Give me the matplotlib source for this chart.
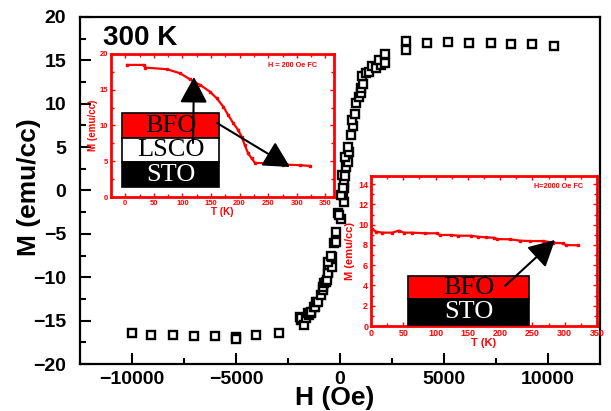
import matplotlib
matplotlib.use("Agg")
import matplotlib.pyplot as plt
from matplotlib.patches import Rectangle
from matplotlib.text import Annotation
from matplotlib.ticker import MultipleLocator

plt.rcParams['font.family'] = ['Liberation Sans', 'DejaVu Sans']
plt.rcParams['font.weight'] = 'bold'

# main hysteresis loop at 300 K
H_main = [-10000, -9076, -8038, -7005, -6014, -4976, -4976, -4019, -2952,
          -1947, -1866, -1866, -1708, -1627, -1550, -1502, -1388, -1388, -1230,
          -1196, -1148, -1072, -909, -833, -833, -751, -670, -622, -593, -593,
          -512, -402, -593, -402, -431, -306, -191, -191, 48, -81, -33, 172,
          124, 48, 172, 206, 124, 96, 254, 287, 364, 254, 445, 364, 526, 636,
          574, 732, 766, 890, 1005, 1005, 1115, 1081, 1244, 1402, 1545, 1722,
          1962, 1880, 2167, 2167, 3158, 3158, 4163, 5196, 6187, 7240, 8244,
          9249, 10301]
M_main = [-16.46, -16.66, -16.7, -16.77, -16.77, -16.85, -17.1, -16.66, -16.46,
          -14.55, -14.93, -14.73, -15.5, -14.73, -14.16, -14.35, -14.09, -13.97, -13.39,
          -13.39, -12.82, -12.82, -12.05, -11.47, -11.16, -10.7, -10.51, -10.32, -9.36, -9.54,
          -8.59, -8.85, -8.2, -7.63, -7.55, -6.09, -5.9, -4.75, -3.32, -2.63, -2.82, -1.29,
          -0.52, -0.52, 0.25, 0.9, 0.25, 1.79, 1.67, 2.74, 3.32, 3.83, 4.47, 5.05, 6.4, 7.44,
          8.13, 8.82, 10.05, 10.74, 11.2, 11.78, 12.28, 13.2, 13.51, 13.69, 14.35, 14.09,
          14.47, 15.04, 14.66, 15.73, 16.2, 17.27, 17.0, 17.1, 17.0, 17.0, 16.9,
          16.9, 16.7]

# inset 1: BFO/LSCO/STO, H = 200 Oe FC
T1 = [3, 32, 35, 73, 96, 113, 131, 148, 160, 171.5, 180, 189, 197.6, 203.5,
      209, 215, 221, 226.7, 247, 276, 305, 322.6]
M1 = [18.47, 18.47, 18.1, 17.87, 17.3, 16.46, 15.67, 14.73, 13.8, 12.62, 11.46,
      10.3, 9.35, 8.42, 7.25, 6.09, 5.39, 4.77, 4.72, 4.54, 4.45, 4.35]

# inset 2: BFO/STO, H = 2000 Oe FC
T2 = [1.5, 7.6, 17.7, 33, 43, 50.8, 63.5, 83.8, 101.6, 106.7, 124.4, 134.6, 155,
      165, 177.8, 190.5, 195.6, 215.9, 231, 246, 266.8, 282, 297, 302, 320]
M2 = [9.58, 9.31, 9.21, 9.21, 9.41, 9.21, 9.21, 9.15, 9.15, 8.98, 8.98, 8.91, 8.91,
      8.81, 8.75, 8.71, 8.58, 8.55, 8.42, 8.38, 8.38, 8.22, 8.16, 7.99, 7.96]

W, Hh = 611, 411
fig = plt.figure(figsize=(W / 100, Hh / 100), dpi=100)


def box(l, t, r, b):
    # pixel box (from top-left) -> figure fraction rect
    return [l / W, 1 - b / Hh, (r - l) / W, (b - t) / Hh]


def fp(x, y):
    return (x, Hh - y)


ax = fig.add_axes(box(80, 17, 600, 364))
ax.plot(H_main, M_main, 's', ms=5.5, mfc='white', mec='black', mew=1.7, ls='none')
ax.set_xlim(-12500, 12500)
ax.set_ylim(-20, 20)
ax.xaxis.set_major_locator(MultipleLocator(5000))
ax.xaxis.set_minor_locator(MultipleLocator(2500))
ax.yaxis.set_major_locator(MultipleLocator(5))
ax.yaxis.set_minor_locator(MultipleLocator(2.5))
ax.tick_params(which='both', direction='in', width=1.5, labelsize=14)
ax.tick_params(which='major', length=8)
ax.tick_params(which='minor', length=4)
ax.tick_params(axis='y', pad=10)
ax.tick_params(axis='x', pad=5)
for s in ax.spines.values():
    s.set_linewidth(1.6)
ax.set_xlabel('H (Oe)', fontsize=19, fontweight='bold')
ax.set_ylabel('M (emu/cc)', fontsize=19, fontweight='bold')
ax.xaxis.set_label_coords(0.49, -0.064)
ax.yaxis.set_label_coords(-0.075, 0.51)
ax.text(0.044, 0.919, '300 K', transform=ax.transAxes, fontsize=20,
        fontweight='bold', va='baseline')

red = '#ff0000'


def style_inset(a, lsize):
    for s in a.spines.values():
        s.set_color(red)
        s.set_linewidth(2)
    a.tick_params(which='both', direction='in', colors=red, labelcolor=red,
                  top=True, right=True, width=1, labelsize=lsize, pad=2)
    a.tick_params(which='major', length=3)
    a.tick_params(which='minor', length=2)
    a.set_facecolor('white')


# inset 1
a1 = fig.add_axes(box(111, 54, 334, 197))
a1.plot(T1, M1, 's-', color=red, ms=2, lw=1.6)
a1.set_xlim(-25, 365)
a1.set_ylim(0, 20)
a1.xaxis.set_major_locator(MultipleLocator(50))
a1.xaxis.set_minor_locator(MultipleLocator(25))
a1.yaxis.set_major_locator(MultipleLocator(5))
a1.yaxis.set_minor_locator(MultipleLocator(2.5))
style_inset(a1, 5.5)
a1.set_xlabel('T (K)', color=red, fontsize=7, fontweight='bold', labelpad=0)
a1.set_ylabel('M (emu/cc)', color=red, fontsize=7, fontweight='bold', labelpad=1)
a1.text(0.815, 0.923, 'H = 200 Oe FC', transform=a1.transAxes, color=red,
        fontsize=5.3, fontweight='bold', ha='center', va='center')

# inset 2
a2 = fig.add_axes(box(371, 176, 597, 326))
a2.plot(T2, M2, 's-', color=red, ms=2, lw=1.6)
a2.set_xlim(0, 350)
a2.set_ylim(0, 14.8)
a2.xaxis.set_major_locator(MultipleLocator(50))
a2.xaxis.set_minor_locator(MultipleLocator(25))
a2.yaxis.set_major_locator(MultipleLocator(2))
a2.yaxis.set_minor_locator(MultipleLocator(1))
style_inset(a2, 6.5)
a2.set_xlabel('T (K)', color=red, fontsize=8, fontweight='bold', labelpad=0)
a2.set_ylabel('M (emu/cc)', color=red, fontsize=8, fontweight='bold', labelpad=2)
a2.text(0.829, 0.929, 'H=2000 Oe FC', transform=a2.transAxes, color=red,
        fontsize=5.3, fontweight='bold', ha='center', va='center')

# layer schematics (figure pixel positions)
serif = ['Liberation Serif', 'DejaVu Serif']


def layers(rows, l, r):
    for top, bot, fc, label, tc in rows:
        fig.patches.append(Rectangle((l / W, 1 - bot / Hh), (r - l) / W, (bot - top) / Hh,
                                     transform=fig.transFigure, facecolor=fc,
                                     edgecolor='black', lw=1.2, zorder=5))
        fig.text((l + r) / 2 / W, 1 - (top + bot) / 2 / Hh, label, color=tc,
                 family=serif, fontweight='normal', fontsize=19,
                 ha='center', va='center', zorder=6)


layers([(113, 138, red, 'BFO', 'black'),
        (138, 162, 'white', 'LSCO', 'black'),
        (162, 187, 'black', 'STO', 'white')], 122, 219)
layers([(276, 299, red, 'BFO', 'black'),
        (299, 325, 'black', 'STO', 'white')], 408, 529)

arrow = dict(arrowstyle='-|>,head_length=1.6,head_width=0.85', color='black',
             lw=1.5, shrinkA=0, shrinkB=0)
for start, end in [((193, 143), (194, 77)), ((217, 123), (290, 167)),
                   ((505, 286), (555, 240))]:
    fig.add_artist(Annotation(
        '', xy=fp(*end), xytext=fp(*start), xycoords='figure pixels',
        textcoords='figure pixels', arrowprops=arrow, zorder=7))

fig.savefig('out.png', dpi=100)
